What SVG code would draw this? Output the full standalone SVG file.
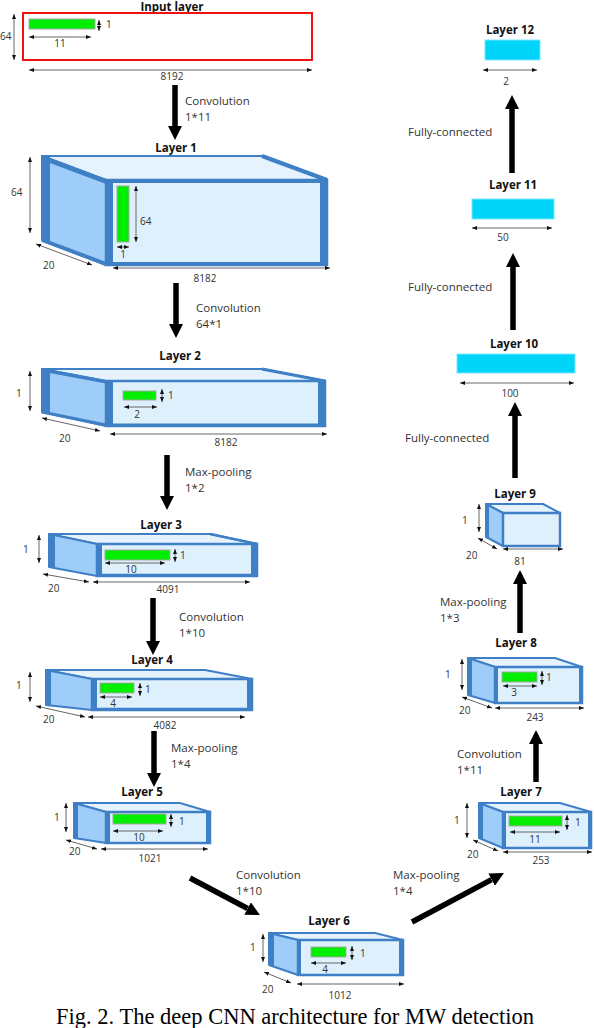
<svg xmlns="http://www.w3.org/2000/svg" width="594" height="1028" viewBox="0 0 594 1028">
<style>
text{font-family:"Open Sans","Noto Sans","DejaVu Sans",sans-serif;fill:#333;font-size:10px}
.t{font-weight:bold;fill:#111;font-size:11.5px;text-anchor:middle}
.op{font-size:11.5px;fill:#333}
.m{text-anchor:middle}
.dim{stroke:#666;stroke-width:1;fill:none;marker-start:url(#da);marker-end:url(#da)}
.big{stroke:#000;stroke-width:5.5;fill:none;marker-end:url(#ba)}
.top{fill:#e6f3fd;stroke:#3f7fc6;stroke-width:2;stroke-linejoin:round}
.lf{fill:#9fcdf9;stroke:#3f7fc6;stroke-width:2;stroke-linejoin:round}
.fr{fill:#dff0fd;stroke:#3f7fc6;stroke-width:2.5}
.band{stroke:#3f7fc6;fill:none}
.g{fill:#00ee00;stroke:#a8a8a8;stroke-width:1}
.c{fill:#00d4f8;stroke:#7fe6ff;stroke-width:1}
.cap{font-family:"Liberation Serif","Times New Roman",serif;font-size:22.5px;fill:#000;text-anchor:middle}
</style>
<defs>
<marker id="da" viewBox="0 0 10 10" refX="10" refY="5" markerWidth="5" markerHeight="5" markerUnits="userSpaceOnUse" orient="auto-start-reverse"><path d="M0,1 L10,5 L0,9z" fill="#111"/></marker>
<marker id="ba" viewBox="0 0 14 14" refX="0" refY="7" markerWidth="14" markerHeight="14" markerUnits="userSpaceOnUse" orient="auto"><path d="M0,0 L14,7 L0,14z" fill="#000"/></marker>
</defs>

<g id="input">
<text class="t" x="172" y="10.5">Input layer</text>
<rect x="23" y="13" width="289" height="47" fill="#fff" stroke="#f01010" stroke-width="2"/>
<rect class="g" x="29" y="19" width="66" height="10"/>
<line class="dim" x1="99" y1="20" x2="99" y2="31"/><text x="106" y="28">1</text>
<line class="dim" x1="29" y1="37" x2="91" y2="37"/><text class="m" x="60" y="47">11</text>
<line class="dim" x1="14" y1="14" x2="14" y2="60"/><text x="0" y="40">64</text>
<line class="dim" x1="29" y1="70" x2="312" y2="70"/><text class="m" x="172" y="80">8192</text>
</g>

<g id="layer1">
<text class="t" x="176" y="152">Layer 1</text>
<polygon class="top" points="42,156 262,156 327,180 106,180"/>
<polygon class="lf" points="42,156 106,180 106,265 42,240"/>
<rect class="fr" x="106" y="180" width="221" height="85"/>
<line class="band" x1="46" y1="156" x2="46" y2="241" stroke-width="8"/>
<line class="band" x1="42" y1="158" x2="106" y2="182" stroke-width="4"/>
<line class="band" x1="42" y1="240" x2="106" y2="264" stroke-width="4"/>
<line class="band" x1="109.5" y1="179" x2="109.5" y2="266" stroke-width="7"/>
<line class="band" x1="323.5" y1="178" x2="323.5" y2="266" stroke-width="7"/>
<line class="band" x1="106" y1="181" x2="327" y2="181" stroke-width="4"/>
<line class="band" x1="106" y1="264" x2="327" y2="264" stroke-width="4"/>
<line class="band" x1="262" y1="156" x2="327" y2="180" stroke-width="4"/>
<rect class="g" x="117" y="186" width="12" height="56"/>
<line class="dim" x1="136" y1="186" x2="136" y2="242"/><text x="140" y="225">64</text>
<line class="dim" x1="117" y1="247" x2="129" y2="247"/><text class="m" x="123" y="258">1</text>
<line class="dim" x1="30" y1="157" x2="30" y2="233"/><text x="11" y="196">64</text>
<line class="dim" x1="36" y1="244" x2="92" y2="265"/><text x="43" y="269">20</text>
<line class="dim" x1="113" y1="268" x2="330" y2="268"/><text class="m" x="205" y="282">8182</text>
</g>

<g id="layer2">
<text class="t" x="180" y="360">Layer 2</text>
<polygon class="top" points="42,369 262,369 325,381 106,381"/>
<polygon class="lf" points="42,369 106,381 106,426 42,412"/>
<rect class="fr" x="106" y="381" width="219" height="45"/>
<line class="band" x1="46" y1="369" x2="46" y2="413" stroke-width="8"/>
<line class="band" x1="42" y1="370" x2="106" y2="382" stroke-width="3"/>
<line class="band" x1="42" y1="412" x2="106" y2="425" stroke-width="3"/>
<line class="band" x1="109.5" y1="380" x2="109.5" y2="427" stroke-width="7"/>
<line class="band" x1="321.5" y1="380" x2="321.5" y2="427" stroke-width="7"/>
<line class="band" x1="106" y1="425" x2="325" y2="425" stroke-width="3"/>
<line class="band" x1="262" y1="369" x2="325" y2="381" stroke-width="3"/>
<rect class="g" x="123" y="391" width="33" height="9"/>
<line class="dim" x1="162" y1="389" x2="162" y2="402"/><text x="168" y="399">1</text>
<line class="dim" x1="124" y1="407" x2="157" y2="407"/><text class="m" x="137" y="418">2</text>
<line class="dim" x1="30" y1="371" x2="30" y2="411"/><text x="16" y="397">1</text>
<line class="dim" x1="42" y1="418" x2="100" y2="431"/><text x="59" y="442">20</text>
<line class="dim" x1="110" y1="434" x2="327" y2="434"/><text class="m" x="226" y="446">8182</text>
</g>

<g id="layer3">
<text class="t" x="161" y="529">Layer 3</text>
<polygon class="top" points="49,534 210,534 257,544 97,544"/>
<polygon class="lf" points="49,534 97,544 97,576 49,567"/>
<rect class="fr" x="97" y="544" width="160" height="32"/>
<line class="band" x1="52" y1="534" x2="52" y2="568" stroke-width="6"/>
<line class="band" x1="99.5" y1="543" x2="99.5" y2="577" stroke-width="5"/>
<line class="band" x1="254" y1="543" x2="254" y2="577" stroke-width="6"/>
<line class="band" x1="97" y1="575" x2="257" y2="575" stroke-width="2.5"/>
<line class="band" x1="210" y1="534" x2="257" y2="544" stroke-width="2.5"/>
<rect class="g" x="105" y="550" width="65" height="10"/>
<line class="dim" x1="175" y1="549" x2="175" y2="562"/><text x="180" y="559">1</text>
<line class="dim" x1="105" y1="563" x2="165" y2="563"/><text class="m" x="131" y="573">10</text>
<line class="dim" x1="39" y1="535" x2="39" y2="563"/><text x="23" y="553">1</text>
<line class="dim" x1="43" y1="574" x2="89" y2="582"/><text x="48" y="592">20</text>
<line class="dim" x1="93" y1="582" x2="250" y2="582"/><text class="m" x="168" y="593">4091</text>
</g>

<g id="layer4">
<text class="t" x="152" y="664">Layer 4</text>
<polygon class="top" points="46,670 205,670 252,679 92,679"/>
<polygon class="lf" points="46,670 92,679 92,710 46,705"/>
<rect class="fr" x="92" y="679" width="160" height="31"/>
<line class="band" x1="48.5" y1="670" x2="48.5" y2="706" stroke-width="5"/>
<line class="band" x1="94.5" y1="678" x2="94.5" y2="711" stroke-width="5"/>
<line class="band" x1="249.5" y1="678" x2="249.5" y2="711" stroke-width="5"/>
<line class="band" x1="92" y1="709" x2="252" y2="709" stroke-width="2.5"/>
<rect class="g" x="100" y="683" width="34" height="10"/>
<line class="dim" x1="140" y1="683" x2="140" y2="696"/><text x="145" y="693">1</text>
<line class="dim" x1="100" y1="697" x2="132" y2="697"/><text class="m" x="113" y="707">4</text>
<line class="dim" x1="30" y1="672" x2="30" y2="702"/><text x="16" y="689">1</text>
<line class="dim" x1="36" y1="706" x2="85" y2="717"/><text x="43" y="723">20</text>
<line class="dim" x1="88" y1="717" x2="245" y2="717"/><text class="m" x="165" y="729">4082</text>
</g>

<g id="layer5">
<text class="t" x="142" y="796">Layer 5</text>
<polygon class="top" points="74,803 180,803 210,812 106,812"/>
<polygon class="lf" points="74,803 106,812 106,843 74,838"/>
<rect class="fr" x="106" y="812" width="104" height="31"/>
<line class="band" x1="76" y1="803" x2="76" y2="839" stroke-width="4"/>
<line class="band" x1="108" y1="811" x2="108" y2="844" stroke-width="4"/>
<line class="band" x1="208" y1="811" x2="208" y2="844" stroke-width="4"/>
<rect class="g" x="113" y="814" width="53" height="10"/>
<line class="dim" x1="171" y1="814" x2="171" y2="827"/><text x="179" y="825">1</text>
<line class="dim" x1="113" y1="831" x2="163" y2="831"/><text class="m" x="139" y="841">10</text>
<line class="dim" x1="66" y1="803" x2="66" y2="832"/><text x="54" y="821">1</text>
<line class="dim" x1="66" y1="840" x2="97" y2="849"/><text x="69" y="855">20</text>
<line class="dim" x1="101" y1="849" x2="208" y2="849"/><text class="m" x="150" y="862">1021</text>
</g>

<g id="layer6">
<text class="t" x="329" y="925">Layer 6</text>
<polygon class="top" points="269,933 375,933 403,940 298,940"/>
<polygon class="lf" points="269,933 298,940 298,975 269,965"/>
<rect class="fr" x="298" y="940" width="105" height="35"/>
<line class="band" x1="271.5" y1="933" x2="271.5" y2="966" stroke-width="5"/>
<line class="band" x1="299.5" y1="939" x2="299.5" y2="976" stroke-width="3"/>
<line class="band" x1="401" y1="939" x2="401" y2="976" stroke-width="4"/>
<rect class="g" x="311" y="947" width="35" height="10"/>
<line class="dim" x1="352" y1="946" x2="352" y2="960"/><text x="360" y="957">1</text>
<line class="dim" x1="311" y1="963" x2="346" y2="963"/><text class="m" x="325" y="973">4</text>
<line class="dim" x1="263" y1="934" x2="263" y2="962"/><text x="250" y="951">1</text>
<line class="dim" x1="264" y1="972" x2="291" y2="983"/><text x="262" y="993">20</text>
<line class="dim" x1="297" y1="984" x2="404" y2="984"/><text class="m" x="340" y="999">1012</text>
</g>

<g id="layer7">
<text class="t" x="521" y="796">Layer 7</text>
<polygon class="top" points="479,803 560,803 591,812 503,812"/>
<polygon class="lf" points="479,803 503,812 503,848 479,838"/>
<rect class="fr" x="503" y="812" width="88" height="36"/>
<line class="band" x1="481" y1="803" x2="481" y2="839" stroke-width="4"/>
<line class="band" x1="504.5" y1="811" x2="504.5" y2="849" stroke-width="3"/>
<line class="band" x1="589.5" y1="811" x2="589.5" y2="849" stroke-width="3"/>
<rect class="g" x="509" y="816" width="53" height="10"/>
<line class="dim" x1="567" y1="815" x2="567" y2="830"/><text x="575" y="826">1</text>
<line class="dim" x1="510" y1="832" x2="560" y2="832"/><text class="m" x="535" y="843">11</text>
<line class="dim" x1="467" y1="803" x2="467" y2="838"/><text x="454" y="824">1</text>
<line class="dim" x1="473" y1="840" x2="498" y2="851"/><text x="467" y="858">20</text>
<line class="dim" x1="503" y1="852" x2="592" y2="852"/><text class="m" x="541" y="864">253</text>
</g>

<g id="layer8">
<text class="t" x="516" y="647">Layer 8</text>
<polygon class="top" points="468,658 555,658 582,667 495,667"/>
<polygon class="lf" points="468,658 495,667 495,703 468,695"/>
<rect class="fr" x="495" y="667" width="87" height="36"/>
<line class="band" x1="470" y1="658" x2="470" y2="696" stroke-width="4"/>
<line class="band" x1="496.5" y1="666" x2="496.5" y2="704" stroke-width="3"/>
<line class="band" x1="580.5" y1="666" x2="580.5" y2="704" stroke-width="3"/>
<rect class="g" x="502" y="672" width="35" height="10"/>
<line class="dim" x1="542" y1="671" x2="542" y2="685"/><text x="546" y="681">1</text>
<line class="dim" x1="503" y1="686" x2="537" y2="686"/><text class="m" x="514" y="696">3</text>
<line class="dim" x1="462" y1="659" x2="462" y2="690"/><text x="445" y="678">1</text>
<line class="dim" x1="462" y1="697" x2="492" y2="708"/><text x="459" y="714">20</text>
<line class="dim" x1="495" y1="708" x2="584" y2="708"/><text class="m" x="535" y="721">243</text>
</g>

<g id="layer9">
<text class="t" x="515" y="498">Layer 9</text>
<polygon class="top" points="486,504 543,504 560,513 503,513"/>
<polygon class="lf" points="486,504 503,513 503,546 486,537"/>
<rect class="fr" x="503" y="513" width="57" height="33" stroke-width="2"/>
<line class="band" x1="487.5" y1="504" x2="487.5" y2="538" stroke-width="3"/>
<line class="dim" x1="479" y1="504" x2="479" y2="532"/><text x="462" y="524">1</text>
<line class="dim" x1="478" y1="538" x2="497" y2="549"/><text x="466" y="559">20</text>
<line class="dim" x1="503" y1="549" x2="563" y2="549"/><text class="m" x="520" y="565">81</text>
</g>

<g id="layer10">
<text class="t" x="514" y="348">Layer 10</text>
<rect class="c" x="457" y="354" width="118" height="19"/>
<line class="dim" x1="460" y1="383" x2="574" y2="383"/><text class="m" x="510" y="397">100</text>
</g>

<g id="layer11">
<text class="t" x="513" y="189">Layer 11</text>
<rect class="c" x="472" y="199" width="82" height="20"/>
<line class="dim" x1="472" y1="228" x2="552" y2="228"/><text class="m" x="503" y="241">50</text>
</g>

<g id="layer12">
<text class="t" x="510" y="34">Layer 12</text>
<rect class="c" x="485" y="40" width="55" height="20"/>
<line class="dim" x1="483" y1="70" x2="537" y2="70"/><text class="m" x="506" y="85">2</text>
</g>

<g id="connectors">
<line class="big" x1="175" y1="85" x2="175" y2="126"/>
<line class="big" x1="176" y1="283" x2="176" y2="324"/>
<line class="big" x1="167" y1="455" x2="167" y2="496"/>
<line class="big" x1="153" y1="598" x2="153" y2="641"/>
<line class="big" x1="154" y1="731" x2="154" y2="773"/>
<line class="big" x1="190" y1="878" x2="247.6" y2="908.5"/>
<line class="big" x1="412" y1="922" x2="491.6" y2="879.6"/>
<line class="big" x1="536" y1="782" x2="536" y2="744"/>
<line class="big" x1="520" y1="633" x2="520" y2="584"/>
<line class="big" x1="515" y1="478" x2="515" y2="416"/>
<line class="big" x1="513" y1="330" x2="513" y2="267"/>
<line class="big" x1="512" y1="173" x2="512" y2="109"/>
<text class="op" x="185" y="105">Convolution</text><text class="op" x="185" y="121">1*11</text>
<text class="op" x="196" y="312">Convolution</text><text class="op" x="196" y="328">64*1</text>
<text class="op" x="185" y="476">Max-pooling</text><text class="op" x="185" y="492">1*2</text>
<text class="op" x="179" y="621">Convolution</text><text class="op" x="179" y="637">1*10</text>
<text class="op" x="171" y="752">Max-pooling</text><text class="op" x="171" y="768">1*4</text>
<text class="op" x="236" y="879">Convolution</text><text class="op" x="236" y="895">1*10</text>
<text class="op" x="393" y="879">Max-pooling</text><text class="op" x="393" y="895">1*4</text>
<text class="op" x="457" y="758">Convolution</text><text class="op" x="457" y="774">1*11</text>
<text class="op" x="440" y="606">Max-pooling</text><text class="op" x="440" y="622">1*3</text>
<text class="op" x="405" y="442">Fully-connected</text>
<text class="op" x="408" y="291">Fully-connected</text>
<text class="op" x="408" y="136">Fully-connected</text>
</g>

<text class="cap" x="295" y="1024">Fig. 2. The deep CNN architecture for MW detection</text>
</svg>
